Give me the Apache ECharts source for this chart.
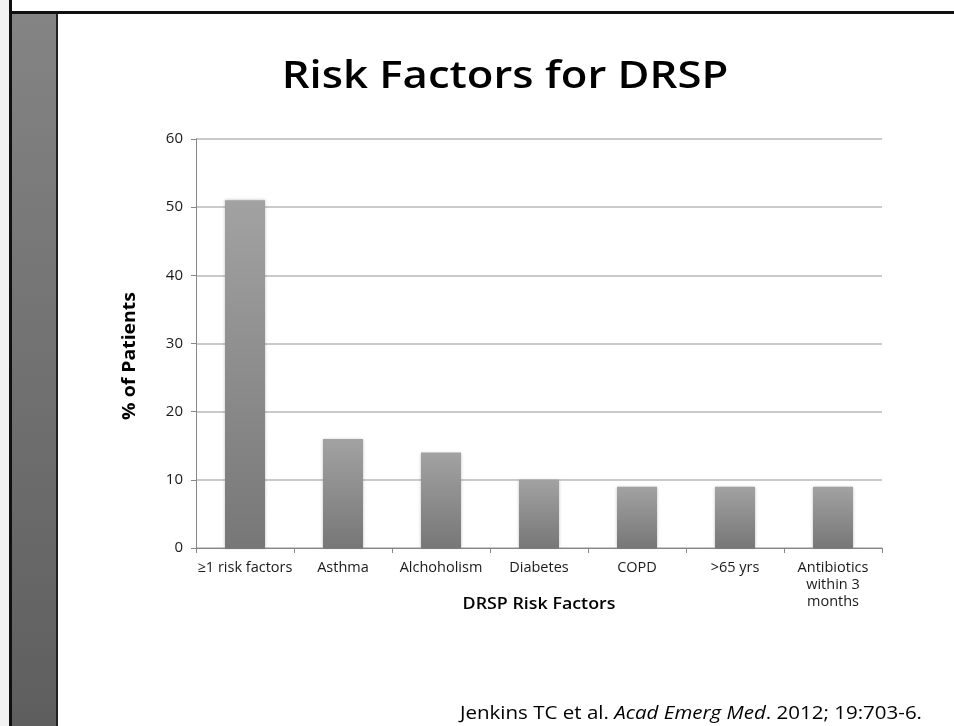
<!DOCTYPE html>
<html>
<head>
<meta charset="utf-8">
<style>
html,body{margin:0;padding:0;background:#fff;}
#chart{width:954px;height:726px;}
</style>
<script src="https://cdn.jsdelivr.net/npm/echarts@6/dist/echarts.min.js"></script>
</head>
<body>
<div id="chart"></div>
<script>
const categories = ['≥1 risk factors', 'Asthma', 'Alchoholism', 'Diabetes', 'COPD', '>65 yrs', 'Antibiotics\nwithin 3\nmonths'];
const values = [51, 16, 14, 10, 9, 9, 9];
const yTicks = { min: 0, max: 60, interval: 10 };
const titleText = 'Risk Factors for DRSP';
const yName = '% of Patients';
const xName = 'DRSP Risk Factors';

const chart = echarts.init(document.getElementById('chart'), null, { renderer: 'canvas' });
const FONT = '"Open Sans", "Liberation Sans", Arial, sans-serif';

chart.setOption({
  backgroundColor: '#ffffff',
  animation: false,
  grid: { left: 196, right: 72, top: 139, bottom: 178, containLabel: false },
  xAxis: {
    type: 'category',
    data: categories,
    axisLine: { lineStyle: { color: '#868686', width: 1 } },
    axisTick: { show: true, alignWithLabel: false, length: 5, lineStyle: { color: '#868686' } },
    axisLabel: { color: '#1a1a1a', fontSize: 14.5, fontFamily: FONT, margin: 11, lineHeight: 17, interval: 0 },
    splitLine: { show: false }
  },
  yAxis: {
    type: 'value',
    min: yTicks.min, max: yTicks.max, interval: yTicks.interval,
    axisLine: { show: true, lineStyle: { color: '#868686', width: 1 } },
    axisTick: { show: true, length: 5, lineStyle: { color: '#868686' } },
    axisLabel: { color: '#1a1a1a', fontSize: 15, fontFamily: FONT, margin: 13 },
    splitLine: { show: true, lineStyle: { color: '#b9b9b9', width: 1.5 } }
  },
  series: [{
    type: 'bar',
    data: values,
    barWidth: 40,
    itemStyle: {
      color: new echarts.graphic.LinearGradient(0, 0, 0, 1, [
        { offset: 0, color: '#a2a2a2' },
        { offset: 1, color: '#777777' }
      ]),
      shadowBlur: 3,
      shadowColor: 'rgba(0,0,0,0.25)'
    }
  }],
  graphic: [
    { type: 'rect', shape: { x: 0, y: 0, width: 9, height: 726 }, style: { fill: '#f2f2f2' }, z: 100 },
    { type: 'rect', shape: { x: 9, y: 0, width: 3, height: 726 }, style: { fill: '#111' }, z: 100 },
    { type: 'rect', shape: { x: 9, y: 11, width: 945, height: 3 }, style: { fill: '#111' }, z: 100 },
    { type: 'rect', shape: { x: 12, y: 14, width: 44, height: 712 },
      style: { fill: new echarts.graphic.LinearGradient(0, 0, 0, 1, [
        { offset: 0, color: '#848484' }, { offset: 1, color: '#5e5e5e' }]) }, z: 100 },
    { type: 'rect', shape: { x: 56, y: 14, width: 2, height: 712 }, style: { fill: '#222' }, z: 100 },
    { type: 'text', x: 505, y: 77, scaleX: 1.18, z: 100,
      style: { text: titleText, font: '600 37px ' + FONT, fill: '#000', textAlign: 'center', textVerticalAlign: 'middle' } },
    { type: 'text', x: 130, y: 356, rotation: Math.PI / 2, scaleX: 1.08, z: 100,
      style: { text: yName, font: 'bold 18px ' + FONT, fill: '#000', textAlign: 'center', textVerticalAlign: 'middle' } },
    { type: 'text', x: 539, y: 604, scaleX: 1.05, z: 100,
      style: { text: xName, font: '600 17px ' + FONT, fill: '#000', textAlign: 'center', textVerticalAlign: 'middle' } },
    { type: 'text', x: 922, y: 714, scaleX: 1.14, z: 100,
      style: {
        text: '{n|Jenkins TC et al. }{i|Acad Emerg Med}{n|. 2012; 19:703-6.}',
        textAlign: 'right', textVerticalAlign: 'middle',
        rich: {
          n: { fontSize: 18, fontFamily: FONT, fill: '#000', color: '#000' },
          i: { fontSize: 18, fontFamily: FONT, fontStyle: 'italic', fill: '#000', color: '#000' }
        }
      } }
  ]
});
</script>
</body>
</html>
